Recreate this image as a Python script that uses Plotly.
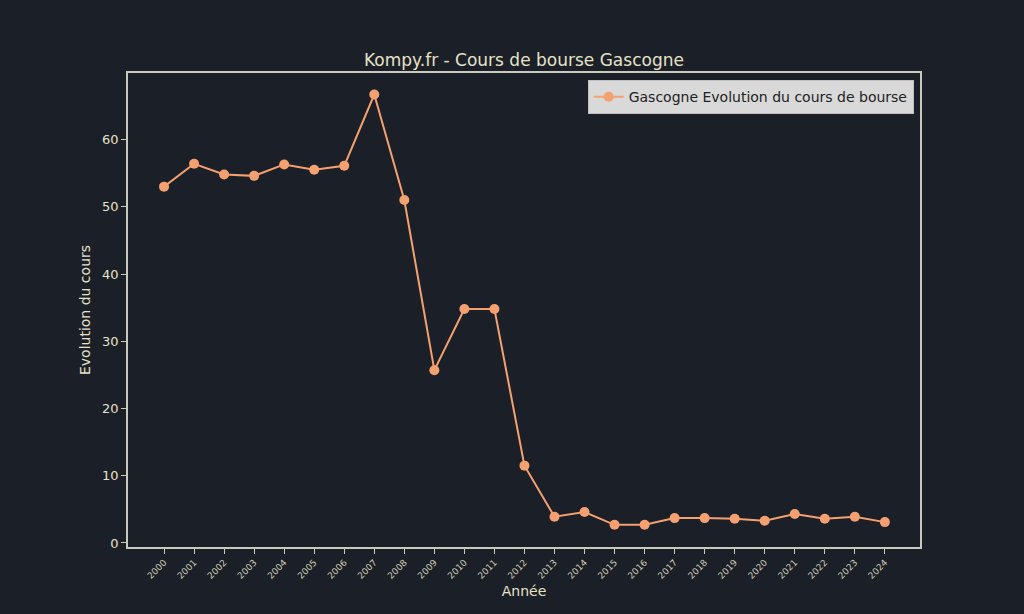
import plotly.graph_objects as go

years = [str(y) for y in range(2000, 2025)]
cours = [53.0, 56.4, 54.8, 54.6, 56.3, 55.5, 56.1, 66.7, 51.0, 25.7, 34.8, 34.8,
         11.5, 3.9, 4.6, 2.7, 2.7, 3.7, 3.7, 3.6, 3.3, 4.3, 3.6, 3.9, 3.1]

bg = "#1b1f27"
txt = "#e6e2c8"
axis_col = "#c9c9bc"
orange = "#f4a070"

fig = go.Figure()
fig.add_trace(go.Scatter(
    x=years,
    y=cours,
    mode="lines+markers",
    name="Gascogne Evolution du cours de bourse",
    line=dict(color=orange, width=2),
    marker=dict(color=orange, size=10)
))

fig.update_layout(
    width=1024,
    height=614,
    paper_bgcolor=bg,
    plot_bgcolor=bg,
    font=dict(family="DejaVu Sans", color=txt, size=13),
    margin=dict(l=128, r=104, t=73, b=67),
    title=dict(
        text="Kompy.fr - Cours de bourse Gascogne",
        xref="paper",
        x=0.5,
        xanchor="center",
        y=1 - 60 / 614,
        yanchor="middle",
        font=dict(size=17, color=txt)
    ),
    showlegend=True,
    legend=dict(
        x=0.992,
        y=0.985,
        xanchor="right",
        yanchor="top",
        bgcolor="#d9d9d9",
        bordercolor="#c0c0c0",
        borderwidth=1,
        font=dict(color="#222222", size=14)
    ),
    xaxis=dict(
        type="category",
        range=[-1.2, 25.17],
        title=dict(text="Année", font=dict(size=14, color=txt), standoff=6),
        tickangle=-45,
        tickfont=dict(size=9, color="#cfcbb4"),
        showgrid=False,
        zeroline=False,
        showline=True,
        linecolor=axis_col,
        linewidth=1.5,
        mirror=True,
        ticks="outside",
        tickcolor=axis_col,
        ticklen=5
    ),
    yaxis=dict(
        range=[-0.6, 69.9],
        tickvals=[0, 10, 20, 30, 40, 50, 60],
        title=dict(text="Evolution du cours", font=dict(size=14, color=txt), standoff=8),
        tickfont=dict(size=13, color=txt),
        showgrid=False,
        zeroline=False,
        showline=True,
        linecolor=axis_col,
        linewidth=1.5,
        mirror=True,
        ticks="outside",
        tickcolor=axis_col,
        ticklen=5
    )
)

fig.write_html(
    "out.html",
    config={"displayModeBar": False},
    post_script="document.body.style.margin='0';document.body.style.background='" + bg + "';"
)
